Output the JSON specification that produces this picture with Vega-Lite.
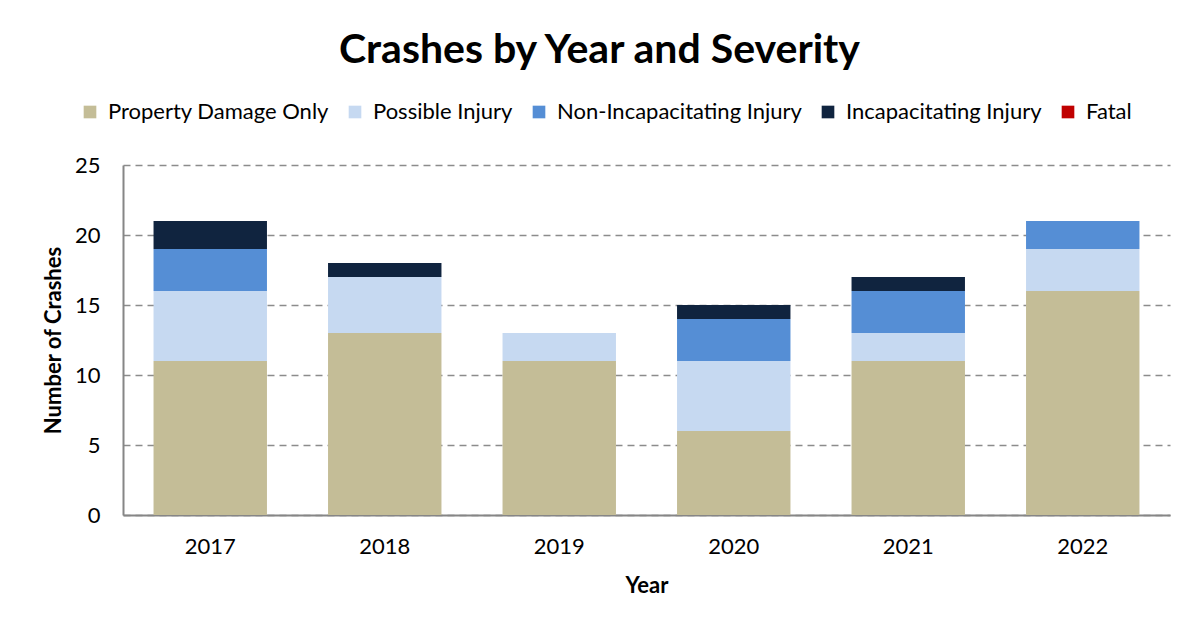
{
  "$schema": "https://vega.github.io/schema/vega-lite/v6.json",
  "autosize": {"type": "none"},
  "width": 1047,
  "height": 350,
  "padding": {"left": 123, "top": 165, "right": 28, "bottom": 117},
  "background": "white",
  "title": {
    "text": "Crashes by Year and Severity",
    "font": "Lato",
    "fontSize": 41,
    "fontWeight": "bold",
    "color": "#000000",
    "anchor": "middle",
    "frame": "group",
    "dx": -47,
    "offset": 29
  },
  "data": {
    "values": [
      {"Year": "2017", "Severity": "Property Damage Only", "Order": 1, "Crashes": 11},
      {"Year": "2017", "Severity": "Possible Injury", "Order": 2, "Crashes": 5},
      {"Year": "2017", "Severity": "Non-Incapacitating Injury", "Order": 3, "Crashes": 3},
      {"Year": "2017", "Severity": "Incapacitating Injury", "Order": 4, "Crashes": 2},
      {"Year": "2017", "Severity": "Fatal", "Order": 5, "Crashes": 0},
      {"Year": "2018", "Severity": "Property Damage Only", "Order": 1, "Crashes": 13},
      {"Year": "2018", "Severity": "Possible Injury", "Order": 2, "Crashes": 4},
      {"Year": "2018", "Severity": "Non-Incapacitating Injury", "Order": 3, "Crashes": 0},
      {"Year": "2018", "Severity": "Incapacitating Injury", "Order": 4, "Crashes": 1},
      {"Year": "2018", "Severity": "Fatal", "Order": 5, "Crashes": 0},
      {"Year": "2019", "Severity": "Property Damage Only", "Order": 1, "Crashes": 11},
      {"Year": "2019", "Severity": "Possible Injury", "Order": 2, "Crashes": 2},
      {"Year": "2019", "Severity": "Non-Incapacitating Injury", "Order": 3, "Crashes": 0},
      {"Year": "2019", "Severity": "Incapacitating Injury", "Order": 4, "Crashes": 0},
      {"Year": "2019", "Severity": "Fatal", "Order": 5, "Crashes": 0},
      {"Year": "2020", "Severity": "Property Damage Only", "Order": 1, "Crashes": 6},
      {"Year": "2020", "Severity": "Possible Injury", "Order": 2, "Crashes": 5},
      {"Year": "2020", "Severity": "Non-Incapacitating Injury", "Order": 3, "Crashes": 3},
      {"Year": "2020", "Severity": "Incapacitating Injury", "Order": 4, "Crashes": 1},
      {"Year": "2020", "Severity": "Fatal", "Order": 5, "Crashes": 0},
      {"Year": "2021", "Severity": "Property Damage Only", "Order": 1, "Crashes": 11},
      {"Year": "2021", "Severity": "Possible Injury", "Order": 2, "Crashes": 2},
      {"Year": "2021", "Severity": "Non-Incapacitating Injury", "Order": 3, "Crashes": 3},
      {"Year": "2021", "Severity": "Incapacitating Injury", "Order": 4, "Crashes": 1},
      {"Year": "2021", "Severity": "Fatal", "Order": 5, "Crashes": 0},
      {"Year": "2022", "Severity": "Property Damage Only", "Order": 1, "Crashes": 16},
      {"Year": "2022", "Severity": "Possible Injury", "Order": 2, "Crashes": 3},
      {"Year": "2022", "Severity": "Non-Incapacitating Injury", "Order": 3, "Crashes": 2},
      {"Year": "2022", "Severity": "Incapacitating Injury", "Order": 4, "Crashes": 0},
      {"Year": "2022", "Severity": "Fatal", "Order": 5, "Crashes": 0}
    ]
  },
  "mark": {"type": "bar"},
  "encoding": {
    "x": {
      "field": "Year",
      "type": "ordinal",
      "scale": {"paddingInner": 0.35, "paddingOuter": 0.175},
      "axis": {
        "title": "Year",
        "titleFont": "Lato",
        "titleFontSize": 22,
        "titleFontWeight": "bold",
        "titleColor": "#000000",
        "titlePadding": 18,
        "labelFont": "Lato",
        "labelFontSize": 22,
        "labelColor": "#000000",
        "labelAngle": 0,
        "labelPadding": 21,
        "ticks": false,
        "domainColor": "#868686",
        "domainWidth": 2
      }
    },
    "y": {
      "field": "Crashes",
      "type": "quantitative",
      "stack": "zero",
      "scale": {"domain": [0, 25]},
      "axis": {
        "title": "Number of Crashes",
        "titleFont": "Lato",
        "titleFontSize": 22,
        "titleFontWeight": "bold",
        "titleColor": "#000000",
        "titlePadding": 9,
        "values": [0, 5, 10, 15, 20, 25],
        "labelFont": "Lato",
        "labelFontSize": 22,
        "labelColor": "#000000",
        "labelPadding": 23,
        "ticks": false,
        "domainColor": "#868686",
        "domainWidth": 2,
        "grid": true,
        "gridColor": "#8c8c8c",
        "gridWidth": 1.5,
        "gridDash": [7, 5]
      }
    },
    "color": {
      "field": "Severity",
      "type": "nominal",
      "scale": {
        "domain": ["Property Damage Only", "Possible Injury", "Non-Incapacitating Injury", "Incapacitating Injury", "Fatal"],
        "range": ["#C4BD97", "#C6D9F1", "#558ED5", "#10243F", "#C00000"]
      },
      "legend": {
        "title": null,
        "orient": "none",
        "direction": "horizontal",
        "legendX": -44,
        "legendY": -64,
        "symbolType": "square",
        "symbolSize": 160,
        "symbolStrokeWidth": 0,
        "labelFont": "Lato",
        "labelFontSize": 22,
        "labelColor": "#000000",
        "labelOffset": 7,
        "columnPadding": 15,
        "labelLimit": 400
      }
    },
    "order": {"field": "Order", "type": "quantitative"}
  },
  "config": {
    "view": {"stroke": null}
  }
}
